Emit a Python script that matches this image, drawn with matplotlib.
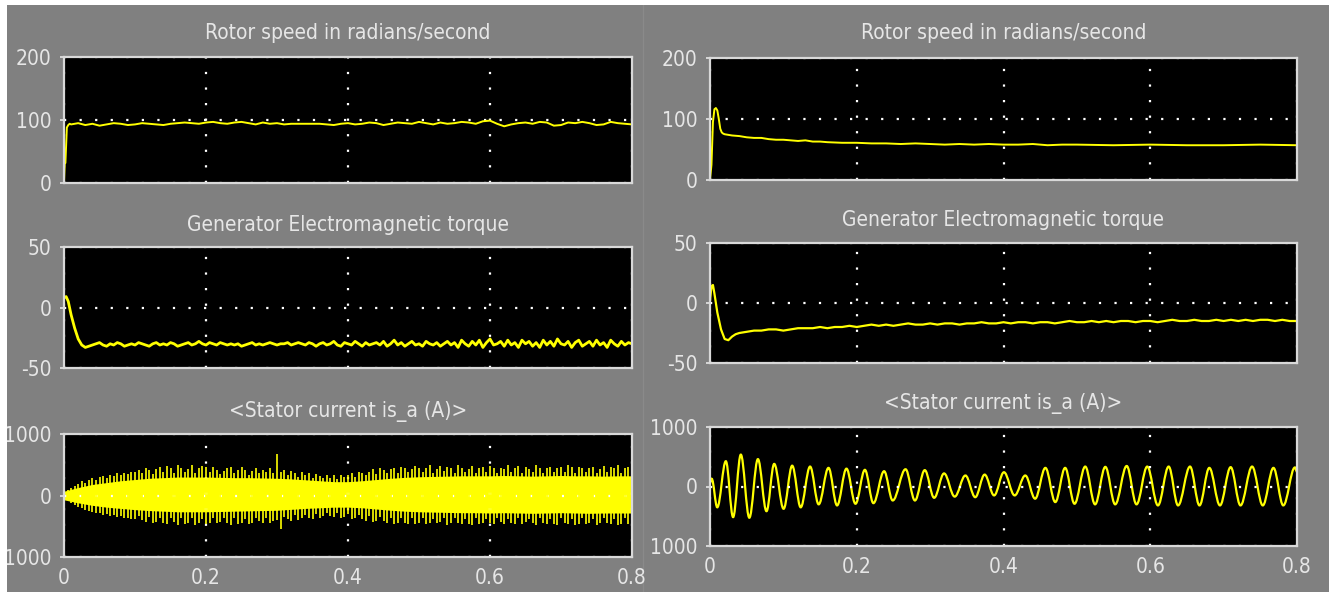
import numpy as np
import matplotlib.pyplot as plt
from matplotlib.patches import Rectangle, PathPatch
from matplotlib.path import Path

# ---- data (time in s) ----

# rotor speed, left run (rad/s)
rs_left_t = [0, 0.001, 0.002, 0.004, 0.006, 0.008] + [round(0.01 * k, 2) for k in range(1, 81)]
rs_left_v = [0, 30, 32, 88, 92, 94,
             93, 95, 92, 94, 91, 93, 95, 94, 92, 93,
             95, 94, 93, 92, 94, 95, 96, 95, 94, 96,
             97, 95, 94, 96, 97, 95, 93, 96, 94, 95,
             93, 94, 94, 94, 94, 94, 93, 92, 94, 95,
             93, 94, 96, 95, 92, 94, 96, 95, 94, 97,
             95, 93, 96, 94, 95, 97, 96, 94, 98, 99,
             94, 90, 93, 95, 96, 94, 97, 96, 91, 92,
             96, 95, 97, 95, 92, 93, 97, 95, 94, 93]

# rotor speed, right run
rs_right_t = [0, 0.002, 0.004, 0.006, 0.008, 0.010, 0.012, 0.014, 0.016, 0.018, 0.02, 0.025, 0.03,
              0.04, 0.05, 0.06, 0.07, 0.08, 0.09, 0.10, 0.11, 0.12, 0.13, 0.14, 0.15, 0.16,
              0.18, 0.20, 0.22, 0.24, 0.26, 0.28, 0.30, 0.32, 0.34, 0.36, 0.38, 0.40, 0.42,
              0.44, 0.46, 0.48, 0.50, 0.55, 0.60, 0.65, 0.70, 0.75, 0.80]
rs_right_v = [0, 25, 95, 116, 118, 114, 100, 84, 78, 76, 75, 74, 73,
              72, 70, 69, 69, 67, 66, 66, 65, 64, 65, 63, 63, 62,
              61, 61, 60, 60, 59, 60, 59, 58, 59, 58, 59, 58, 58,
              59, 57, 58, 58, 57, 58, 57, 57, 58, 57]

# electromagnetic torque, left run (start-up, then every 5 ms)
tq_left_t = [0, 0.003, 0.006, 0.01, 0.015, 0.02, 0.025, 0.03, 0.035] + [round(0.04 + 0.005 * k, 3) for k in range(153)]
tq_left_v = [8, 9, 5, -6, -17, -26, -31, -33, -32,
             -31, -30, -29, -31, -32, -30, -31, -29, -30, -32, -31, -30, -31, -29, -30, -31, -32, -30, -29, -31,
             -30, -31, -29, -30, -32, -31, -30, -29, -31, -30, -28, -30, -31, -29, -30, -31, -29, -30, -31, -30,
             -31, -30, -32, -31, -30, -29, -31, -30, -31, -30, -29, -30, -31, -30, -30, -29, -31, -30, -29, -30,
             -31, -29, -30, -32, -30, -29, -31, -30, -28, -31, -32, -29, -30, -31, -28, -30, -32, -29, -31, -30,
             -29, -31, -28, -32, -30, -27, -31, -29, -32, -30, -28, -31, -30, -32, -28, -30, -31, -29, -32, -30,
             -28, -31, -29, -33, -27, -30, -32, -28, -31, -27, -33, -29, -26, -31, -30, -28, -32, -27, -31, -29,
             -33, -27, -30, -28, -32, -29, -33, -27, -31, -28, -32, -26, -30, -31, -28, -33, -29, -27, -32, -30,
             -28, -32, -27, -31, -29, -33, -27, -30, -32, -28, -31, -29, -30]

# electromagnetic torque, right run
tq_right_t = [0, 0.002, 0.004, 0.006, 0.01, 0.015, 0.02, 0.025, 0.03, 0.035] + [round(0.01 * k, 2) for k in range(4, 81)]
tq_right_v = [2, 14, 15, 8, -8, -22, -30, -31, -28, -26,
              -25, -24, -23, -23, -22, -22, -23, -22, -21, -21,
              -21, -20, -21, -20, -20, -19, -20, -19, -18, -19,
              -18, -19, -18, -17, -18, -18, -17, -18, -17, -17,
              -18, -17, -17, -16, -17, -17, -16, -17, -16, -16,
              -17, -16, -16, -17, -16, -15, -16, -16, -15, -16,
              -15, -16, -15, -15, -16, -15, -15, -16, -15, -14,
              -15, -15, -14, -15, -15, -14, -15, -14, -15, -14,
              -15, -14, -14, -15, -14, -15, -15]

# stator current, left run: solid core band (every 0.02 s) and spikes (every 0.005 s)
core_t = [round(0.02 * k, 2) for k in range(41)]
core_hi = [70, 130, 180, 210, 240, 260, 280, 290, 300, 300,
           300, 295, 290, 290, 285, 280, 270, 255, 240, 225,
           225, 240, 260, 280, 295, 305, 310, 315, 320, 320,
           320, 325, 320, 315, 320, 325, 320, 320, 315, 320, 320]
core_lo = [-70, -120, -160, -190, -210, -230, -245, -255, -265, -265,
           -265, -260, -255, -250, -245, -240, -225, -210, -200, -190,
           -190, -200, -220, -240, -255, -265, -270, -275, -280, -280,
           -285, -280, -285, -290, -285, -280, -285, -290, -285, -285, -285]
spike_t = [round(0.005 * k, 3) for k in range(161)]
spike_hi = [40, 90, 130, 160, 190, 230, 210, 260, 280, 250, 300, 320, 290, 340, 310, 360, 330, 370, 350, 390,
            380, 420, 360, 440, 410, 350, 430, 470, 380, 480, 440, 360, 500, 450, 390, 430, 490, 370, 440, 480,
            470, 380, 460, 420, 350, 400, 440, 470, 360, 410, 460, 420, 340, 400, 450, 370, 410, 380, 440, 360,
            680, 380, 420, 330, 400, 370, 300, 390, 330, 360, 290, 350, 320, 280, 340, 290, 330, 270, 340, 300,
            330, 360, 300, 390, 370, 330, 380, 430, 350, 440, 420, 370, 430, 450, 360, 470, 440, 380, 430, 480,
            450, 380, 440, 490, 370, 430, 480, 400, 470, 440, 370, 490, 450, 390, 430, 480, 370, 440, 470, 390,
            480, 440, 370, 450, 430, 490, 380, 440, 480, 370, 470, 430, 390, 490, 450, 370, 440, 460, 380, 450,
            470, 380, 490, 460, 370, 470, 450, 380, 440, 470, 360, 430, 480, 380, 470, 440, 490, 370, 450, 470,
            460]
spike_lo = [-40, -80, -120, -150, -180, -210, -230, -250, -270, -290, -280, -310, -300, -330, -320, -350, -340, -370, -360, -380,
            -390, -340, -400, -430, -350, -450, -430, -360, -440, -470, -370, -430, -480, -360, -470, -440, -370, -480, -450, -380,
            -460, -440, -360, -450, -430, -370, -450, -480, -360, -460, -450, -380, -470, -440, -360, -420, -450, -370, -440, -420,
            -400, -540, -350, -390, -410, -320, -400, -370, -310, -360, -380, -300, -370, -340, -290, -330, -350, -280, -370, -350,
            -300, -380, -370, -320, -390, -420, -340, -430, -410, -350, -420, -450, -360, -460, -440, -370, -450, -470, -360, -460,
            -450, -370, -460, -440, -380, -450, -430, -360, -480, -440, -370, -450, -470, -380, -460, -480, -370, -470, -450, -380,
            -440, -470, -370, -430, -460, -380, -450, -470, -370, -460, -430, -380, -450, -480, -370, -440, -470, -380, -460, -480,
            -370, -440, -470, -380, -480, -460, -370, -470, -450, -380, -480, -440, -370, -450, -460, -380, -480, -460, -370, -470,
            -460]

# stator current, right run: successive peaks / troughs
cur_r_t = [0, 0.0023, 0.0099, 0.0216, 0.0315, 0.042, 0.0536, 0.0653, 0.077, 0.0875,
           0.1003, 0.112, 0.1236, 0.1364, 0.1481, 0.1615, 0.1732, 0.186, 0.1983, 0.2111,
           0.2227, 0.2373, 0.249, 0.2665, 0.2793, 0.2927, 0.3055, 0.319, 0.3335, 0.3481,
           0.3615, 0.3743, 0.3872, 0.4006, 0.4152, 0.4297, 0.4431, 0.4571, 0.4706, 0.484,
           0.4968, 0.5114, 0.5248, 0.5388, 0.5522, 0.5679, 0.5813, 0.5959, 0.6105, 0.6251,
           0.6379, 0.6542, 0.6671, 0.6805, 0.695, 0.7096, 0.723, 0.7388, 0.7534, 0.7679,
           0.7813, 0.7971, 0.80]
cur_r_v = [70, 130, -350, 425, -515, 536, -525, 460, -415, 380,
           -375, 350, -350, 335, -300, 313, -318, 300, -290, 280,
           -280, 257, -235, 290, -235, 275, -190, 220, -170, 185,
           -180, 200, -150, 240, -150, 185, -205, 313, -262, 313,
           -290, 335, -300, 330, -300, 345, -300, 335, -318, 335,
           -318, 335, -318, 313, -318, 325, -318, 335, -318, 313,
           -318, 320, 250]

titles = ['Rotor speed in radians/second', 'Generator Electromagnetic torque',
          '<Stator current is_a (A)>']
y_ticks = [[0, 100, 200], [-50, 0, 50], [-1000, 0, 1000]]
y_labels = [['0', '100', '200'], ['-50', '0', '50'], ['1000', '0', '1000']]
x_ticks = [0, 0.2, 0.4, 0.6, 0.8]
x_labels = ['0', '0.2', '0.4', '0.6', '0.8']

# ---- layout (pixel boxes measured on the screenshot) ----
W, H = 1329, 592
GRAY = '#808080'
TXT = '#e6e6e6'
FRAME = '#d9d9d9'
YEL = '#ffff00'
plt.rcParams['font.family'] = ['DejaVu Sans']
plt.rcParams['font.stretch'] = 'condensed'

fig = plt.figure(figsize=(W / 100, H / 100), dpi=100, facecolor=GRAY)
fig.patches.append(Rectangle((0, 1 - 5 / H), 1, 5 / H, transform=fig.transFigure,
                             facecolor='white', edgecolor='none'))
fig.patches.append(Rectangle((0, 0), 7 / W, 1, transform=fig.transFigure,
                             facecolor='white', edgecolor='none'))
fig.add_artist(plt.Line2D([643 / W, 643 / W], [0, 1 - 5 / H], color='#8a8a8a', lw=1, zorder=-1))

boxes_left = [(64, 57, 632, 183), (64, 247, 632, 368), (64, 434, 632, 557)]
boxes_right = [(710, 58, 1297, 180), (710, 243, 1297, 363), (710, 427, 1297, 546)]
title_y_left = [33, 225, 412]
title_y_right = [33, 220, 403]


def make_axes(box, row, title_y):
    x0, y0, x1, y1 = box
    ax = fig.add_axes([x0 / W, 1 - y1 / H, (x1 - x0) / W, (y1 - y0) / H])
    ax.set_facecolor('black')
    ax.set_xlim(0, 0.8)
    ax.set_ylim(y_ticks[row][0], y_ticks[row][-1])
    ax.set_yticks(y_ticks[row])
    ax.set_yticklabels(y_labels[row])
    ax.set_xticks(x_ticks)
    if row == 2:
        ax.set_xticklabels(x_labels)
    else:
        ax.set_xticklabels([])
    ax.tick_params(colors=TXT, labelsize=15, length=3, width=1.2, pad=6)
    ax.tick_params(axis='x', length=0, pad=8)
    for s in ax.spines.values():
        s.set_color(FRAME)
        s.set_linewidth(1.6)
    ax.grid(True, color='white', linestyle=(0, (1, 6)), lw=1.6)
    fig.text((x0 + x1) / 2 / W, 1 - title_y / H, titles[row], color=TXT,
             fontsize=15, ha='center', va='center')
    return ax


def smooth_wave(ax, t, v, **kw):
    # cubic segments with flat tangents at every peak/trough
    verts = [(t[0], v[0])]
    codes = [Path.MOVETO]
    for i in range(len(t) - 1):
        d = t[i + 1] - t[i]
        verts += [(t[i] + 0.364 * d, v[i]), (t[i + 1] - 0.364 * d, v[i + 1]), (t[i + 1], v[i + 1])]
        codes += [Path.CURVE4] * 3
    ax.add_patch(PathPatch(Path(verts, codes), fill=False, **kw))


axl = [make_axes(b, i, title_y_left[i]) for i, b in enumerate(boxes_left)]
axr = [make_axes(b, i, title_y_right[i]) for i, b in enumerate(boxes_right)]

axl[0].plot(rs_left_t, rs_left_v, color=YEL, lw=1.4)
axr[0].plot(rs_right_t, rs_right_v, color=YEL, lw=1.4)
axl[1].plot(tq_left_t, tq_left_v, color=YEL, lw=2.0)
axr[1].plot(tq_right_t, tq_right_v, color=YEL, lw=1.6)

axl[2].fill_between(core_t, core_lo, core_hi, color=YEL, lw=0)
axl[2].vlines(spike_t, spike_lo, spike_hi, color=YEL, lw=1.2)
smooth_wave(axr[2], cur_r_t, cur_r_v, edgecolor=YEL, lw=1.6)

fig.savefig('out.png', dpi=100, facecolor=GRAY)
